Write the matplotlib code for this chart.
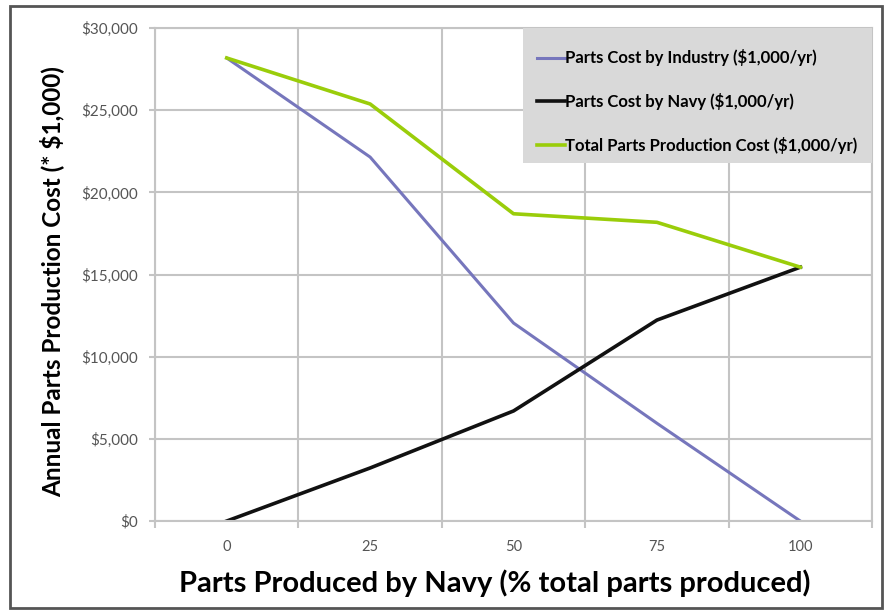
import matplotlib
matplotlib.use('Agg')
import matplotlib.pyplot as plt
from matplotlib.patches import Rectangle
from matplotlib.ticker import FuncFormatter

# data
categories = ['0', '25', '50', '75', '100']
industry_cost = [28180, 22150, 12050, 5950, 0]
navy_cost = [0, 3230, 6700, 12230, 15450]
total_cost = [28180, 25380, 18700, 18180, 15450]

plt.rcParams['font.family'] = ['Lato', 'DejaVu Sans']

fig = plt.figure(figsize=(8.91, 6.13), dpi=100)
ax = fig.add_axes([0.174, 0.150, 0.8047, 0.8042])

x = list(range(len(categories)))
ax.plot(x, industry_cost, color='#7676BC', lw=2.2, label='Parts Cost by Industry ($1,000/yr)')
ax.plot(x, navy_cost, color='#111111', lw=2.6, label='Parts Cost by Navy ($1,000/yr)')
ax.plot(x, total_cost, color='#9ACD0A', lw=2.6, label='Total Parts Production Cost ($1,000/yr)')

grid_col = '#C4C4C4'
ax.set_xlim(-0.5, len(categories) - 0.5)
ax.set_ylim(0, 30000)
ax.set_yticks(range(0, 30001, 5000))
ax.yaxis.set_major_formatter(FuncFormatter(lambda v, p: f'${v:,.0f}'))
ax.set_xticks(x)
ax.set_xticklabels(categories)
ax.set_xticks([i - 0.5 for i in range(len(categories) + 1)], minor=True)

ax.grid(True, which='major', axis='y', color=grid_col, lw=1.5)
ax.grid(True, which='minor', axis='x', color=grid_col, lw=1.5)
ax.tick_params(axis='x', which='major', length=0, pad=14, labelsize=10.5, labelcolor='#555555')
ax.tick_params(axis='x', which='minor', length=5, color=grid_col, width=1.5)
ax.tick_params(axis='y', length=4, color=grid_col, width=1.5, pad=8,
               labelsize=11, labelcolor='#555555')
for s in ax.spines.values():
    s.set_color(grid_col)
    s.set_linewidth(1.5)
ax.set_axisbelow(True)

ax.set_xlabel('Parts Produced by Navy (% total parts produced)', fontsize=21,
              fontweight='bold')
ax.xaxis.set_label_coords(0.474, -0.099)
ax.set_ylabel('Annual Parts Production Cost (* $1,000)', fontsize=17.5,
              fontweight='bold')
ax.yaxis.set_label_coords(-0.126, 0.486)

# legend box (grey panel drawn separately so the padding can match)
ax.add_patch(Rectangle((0.513, 0.726), 0.487, 0.274, transform=ax.transAxes,
                       facecolor='#D9D9D9', edgecolor='none', zorder=4))
leg = ax.legend(loc='center', bbox_to_anchor=(0.7565, 0.851), frameon=False,
                handlelength=1.7, handletextpad=0.0, labelspacing=1.6,
                borderpad=0.0, prop={'weight': 'bold', 'size': 12})
leg.set_zorder(5)

# outer chart border
fig.patches.append(Rectangle((10 / 891, 5 / 613), 872 / 891, 602 / 613,
                             transform=fig.transFigure, fill=False,
                             edgecolor='#555555', lw=2))

fig.savefig('out.png', dpi=100)
